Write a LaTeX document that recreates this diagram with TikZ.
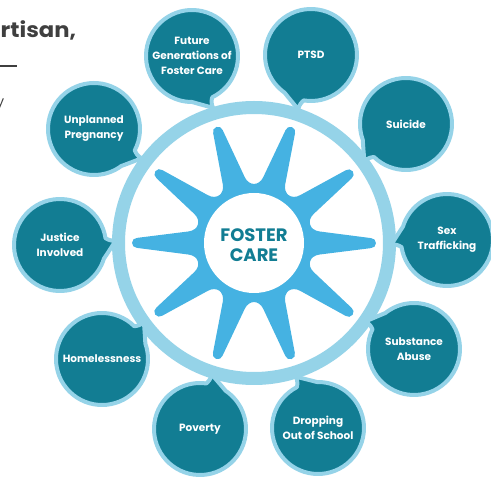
\documentclass[tikz,border=0pt]{standalone}
\usepackage{fontspec}
\setmainfont{Poppins}
\definecolor{tealdark}{HTML}{127D93}
\definecolor{ringblue}{HTML}{95D3E8}
\definecolor{sunblue}{HTML}{45B2E2}
\definecolor{txtgray}{HTML}{3F3F3F}
\tikzset{
  bubblestyle/.style={fill=tealdark, draw=ringblue, line width=4pt, line join=round},
  bubbletext/.style={text=white, align=center, font=\fontsize{10.5}{15}\selectfont\bfseries, inner sep=0pt},
  centertext/.style={text=tealdark, align=center, font=\fontsize{18}{20}\selectfont\bfseries, inner sep=0pt}
}
\newcommand\mybubble[4]{%
  \begin{scope}[shift={#2}, rotate=#3]
    \path[bubblestyle] (8:46) arc[start angle=8, end angle=342, radius=46pt]
      .. controls (-10:48.5) and (-2:52) .. (4:56)
      .. controls (3.6:51) and (6:48) .. (8:46) -- cycle;
  \end{scope}
  \node[bubbletext] (#1) at #2 {#4};
}
\begin{document}
\begin{tikzpicture}[x=1pt,y=1pt]
\useasboundingbox (0,0) rectangle (491,477);
\clip (0,0) rectangle (491,477);
% header fragments
\node[font=\fontsize{21}{24}\selectfont\bfseries, text=txtgray, anchor=base west, inner sep=0pt, xscale=1.08] (hdr) at (0.5,439) {rtisan,};
\fill[txtgray] (0,409.5) rectangle (17,412);
\node[font=\fontsize{14}{16}\selectfont, text=txtgray, anchor=base east, inner sep=0pt] (frag) at (4.5,370) {y};
% ring
\coordinate (C) at (254,234);
\draw[ringblue, line width=13pt] (C) circle[radius=135.5pt];
% sun
\begin{scope}[shift={(254,234)}]
  \fill[sunblue] (-10:66.5) \foreach \a in {0,36,...,324}{
      -- (\a-2.5:117.1) arc[start angle=\a-90, end angle=\a+90, radius=5pt]
      -- (\a+10:66.5) .. controls (\a+13:57) and (\a+23:57) .. (\a+26:66.5)} -- cycle;
  \fill[white] (0,0) circle[radius=50pt];
\end{scope}
\node[centertext] (fc) at (254,232) {FOSTER\\CARE};
% bubbles
\mybubble{future}{(192,421)}{-71.9}{Future\\Generations of\\Foster Care}
\mybubble{ptsd}{(311,422)}{-107.1}{PTSD}
\mybubble{suicide}{(406,353)}{-142.1}{Suicide}
\mybubble{sext}{(447,237)}{180.9}{Sex\\Trafficking}
\mybubble{subst}{(414,128)}{146.6}{Substance\\Abuse}
\mybubble{dropping}{(318,49)}{109.4}{Dropping\\Out of School}
\mybubble{poverty}{(200,48)}{74.1}{Poverty}
\mybubble{homeless}{(102,118)}{37.5}{Homelessness}
\mybubble{justice}{(60,232)}{0.6}{Justice\\Involved}
\mybubble{unplanned}{(94,348)}{-35.6}{Unplanned\\Pregnancy}
\end{tikzpicture}
\end{document}
